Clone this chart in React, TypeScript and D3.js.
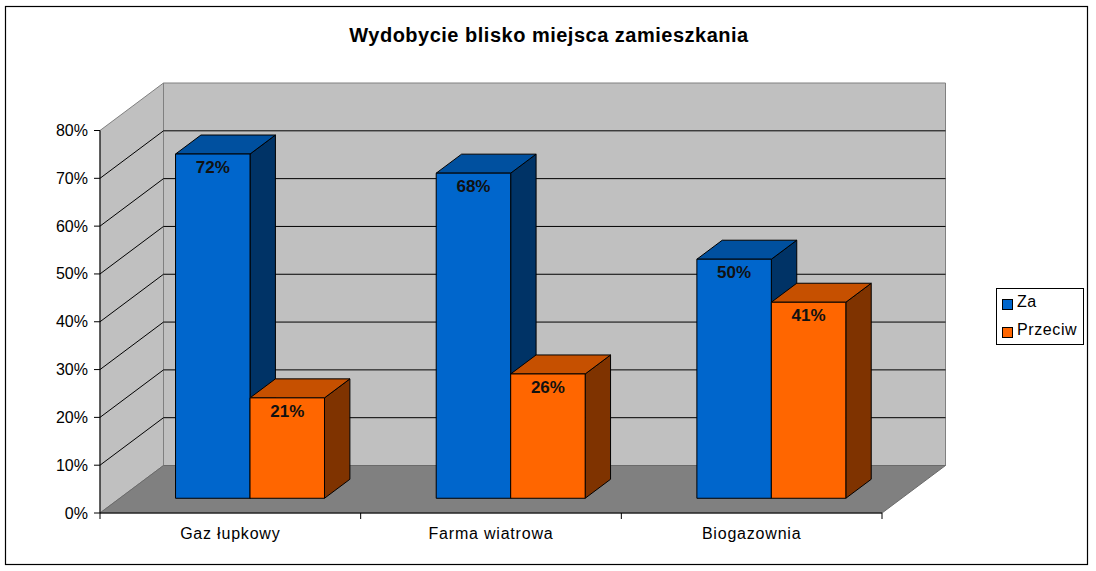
import React from 'react';
import * as d3 from 'd3';

const categories = ['Gaz łupkowy', 'Farma wiatrowa', 'Biogazownia'];
const seriesNames = ['Za', 'Przeciw'];
const zaValues = [72, 68, 50];
const przeciwValues = [21, 26, 41];
const yTicks = [0, 10, 20, 30, 40, 50, 60, 70, 80];

const W = 1096;
const H = 571;
const FONT = 'Arial, "Liberation Sans", sans-serif';

// depth of the 3D box (full back wall offset)
const DX = 63.5;
const DY = -47.5;
// bar depth, as fraction of box depth
const T0 = 0.31;
const T1 = 0.71;

const faces = {
  Za: { front: '#0066CC', top: '#00509F', side: '#003366' },
  Przeciw: { front: '#FF6600', top: '#C65000', side: '#7F3300' },
};

export default function App() {
  const x = d3.scaleBand<string>().domain(categories).range([100, 882]);
  const inner = d3.scaleBand<string>()
    .domain(seriesNames)
    .range([0, x.bandwidth()])
    .paddingInner(0)
    .paddingOuter(0.75);
  const y = d3.scaleLinear().domain([0, 80]).range([513, 130.5]);

  const proj = (px: number, v: number, t: number): [number, number] => [px + DX * t, y(v) + DY * t];
  const pts = (arr: [number, number][]) => arr.map(p => p.join(',')).join(' ');

  const x0 = x.range()[0];
  const x1 = x.range()[1];
  const vMax = 80;

  const backWall = pts([proj(x0, 0, 1), proj(x1, 0, 1), proj(x1, vMax, 1), proj(x0, vMax, 1)]);
  const leftWall = pts([proj(x0, 0, 0), proj(x0, 0, 1), proj(x0, vMax, 1), proj(x0, vMax, 0)]);
  const floor = pts([proj(x0, 0, 0), proj(x1, 0, 0), proj(x1, 0, 1), proj(x0, 0, 1)]);

  const bars: { key: string; s: string; v: number; left: number; right: number }[] = [];
  categories.forEach((c, i) => {
    const vals = [zaValues[i], przeciwValues[i]];
    seriesNames.forEach((s, j) => {
      const left = (x(c) ?? 0) + (inner(s) ?? 0);
      bars.push({ key: `${c}-${s}`, s, v: vals[j], left, right: left + inner.bandwidth() });
    });
  });

  return (
    <svg width={W} height={H} style={{ position: 'absolute', left: 0, top: 0 }} fontFamily={FONT}>
      <rect x={0} y={0} width={W} height={H} fill="#fff" />
      <rect x={5.5} y={6.5} width={1082} height={558} fill="#fff" stroke="#000" strokeWidth={1.2} />

      <text x={549} y={42} textAnchor="middle" fontSize={20} letterSpacing={0.5} fontWeight="bold" fill="#000">
        Wydobycie blisko miejsca zamieszkania
      </text>

      {/* walls */}
      <polygon points={backWall} fill="#C0C0C0" stroke="#808080" strokeWidth={1} />
      <polygon points={leftWall} fill="#C0C0C0" stroke="#808080" strokeWidth={1} />
      <polygon points={floor} fill="#808080" stroke="#6a6a6a" strokeWidth={1} />

      {/* gridlines */}
      {yTicks.filter(t => t > 0 && t < vMax).map(t => {
        const a = proj(x0, t, 0);
        const b = proj(x0, t, 1);
        const c = proj(x1, t, 1);
        return (
          <polyline key={t} points={pts([a, b, c])} fill="none" stroke="#000" strokeWidth={1} />
        );
      })}

      {/* axes */}
      <line x1={x0} x2={x0} y1={y(0)} y2={y(vMax)} stroke="#000" strokeWidth={1} />
      <line x1={x0} x2={x1} y1={y(0)} y2={y(0)} stroke="#000" strokeWidth={1} />
      {yTicks.map(t => (
        <g key={t}>
          <line x1={x0 - 6} x2={x0} y1={y(t)} y2={y(t)} stroke="#000" />
          <text x={88} y={y(t) + 5.5} textAnchor="end" fontSize={16} fill="#000">{t}%</text>
        </g>
      ))}
      {[...categories.map(c => x(c) ?? 0), x1].map((px, i) => (
        <line key={i} x1={px} x2={px} y1={y(0)} y2={y(0) + 6} stroke="#000" />
      ))}
      {categories.map(c => (
        <text key={c} x={(x(c) ?? 0) + x.bandwidth() / 2} y={538.5} textAnchor="middle"
          fontSize={16} letterSpacing={0.8} fill="#000">{c}</text>
      ))}

      {/* bars */}
      {bars.map(b => {
        const col = faces[b.s as 'Za' | 'Przeciw'];
        const front = pts([proj(b.left, 0, T0), proj(b.right, 0, T0), proj(b.right, b.v, T0), proj(b.left, b.v, T0)]);
        const top = pts([proj(b.left, b.v, T0), proj(b.right, b.v, T0), proj(b.right, b.v, T1), proj(b.left, b.v, T1)]);
        const side = pts([proj(b.right, 0, T0), proj(b.right, 0, T1), proj(b.right, b.v, T1), proj(b.right, b.v, T0)]);
        const [fx, fy] = proj((b.left + b.right) / 2, b.v, T0);
        return (
          <g key={b.key}>
            <polygon points={side} fill={col.side} stroke="#000" strokeWidth={1} strokeLinejoin="round" />
            <polygon points={top} fill={col.top} stroke="#000" strokeWidth={1} strokeLinejoin="round" />
            <polygon points={front} fill={col.front} stroke="#000" strokeWidth={1} strokeLinejoin="round" />
            <text x={fx} y={fy + 19} textAnchor="middle" fontSize={17} fontWeight="bold" fill="#111">{b.v}%</text>
          </g>
        );
      })}

      {/* legend */}
      <rect x={996.5} y={288.5} width={87} height={56} fill="#fff" stroke="#000" strokeWidth={1} />
      {seriesNames.map((s, i) => (
        <g key={s}>
          <rect x={1002.5} y={299.5 + i * 28} width={10} height={10}
            fill={faces[s as 'Za' | 'Przeciw'].front} stroke="#000" strokeWidth={1} />
          <text x={1017} y={307 + i * 28} fontSize={16} letterSpacing={0.6} fill="#000">{s}</text>
        </g>
      ))}
    </svg>
  );
}
